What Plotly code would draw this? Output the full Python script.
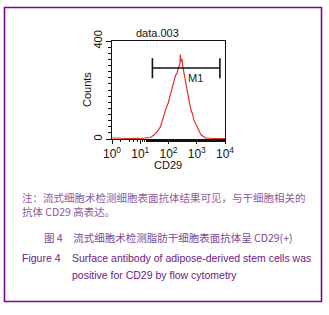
import numpy as np
import plotly.graph_objects as go

W, H = 329, 315

# histogram data: log10(CD29 intensity) bins and counts
log_bins = [0.0, 0.1, 0.2, 0.3, 0.4, 0.5, 0.6, 0.7, 0.8, 0.9, 1.0, 1.1, 1.2, 1.25,
            1.30, 1.35, 1.40, 1.45, 1.50, 1.55, 1.60, 1.65, 1.70, 1.75, 1.80, 1.85,
            1.90, 1.95, 2.00, 2.05, 2.10, 2.15, 2.20, 2.25, 2.30, 2.35, 2.40, 2.42,
            2.45, 2.48, 2.50, 2.55, 2.60, 2.65, 2.70, 2.75, 2.80, 2.85, 2.90, 2.95,
            3.00, 3.05, 3.10, 3.15, 3.20, 3.25, 3.30, 3.35, 3.40, 3.5, 3.6, 3.7,
            3.8, 3.9, 4.0]
counts = [4, 3, 2, 3, 3, 2, 3, 2, 3, 3, 2, 3, 3, 3,
          4, 6, 9, 12, 18, 23, 30, 35, 46, 63, 86, 100,
          121, 136, 150, 174, 196, 224, 238, 260, 268, 292, 302, 345,
          316, 325, 300, 268, 226, 197, 166, 142, 116, 102, 78, 64,
          50, 36, 29, 17, 12, 7, 5, 3, 2, 3, 2, 2,
          3, 2, 2]

marker_name = "M1"
marker_range = [1.43, 3.82]   # log10 bounds
marker_level = 290
marker_tick = [248, 330]

x_tickvals = [1, 10, 100, 1000, 10000]
x_ticktext = ["10<sup>0</sup>", "10<sup>1</sup>", "10<sup>2</sup>", "10<sup>3</sup>", "10<sup>4</sup>"]
y_tickvals = [0, 400]
y_ticktext = ["0", "400"]

title = "data.003"
x_title = "CD29"
y_title = "Counts"

note1 = "注：流式细胞术检测细胞表面抗体结果可见，与干细胞相关的"
note2 = "抗体 CD29 高表达。"
cap_cn = "图 4　流式细胞术检测脂肪干细胞表面抗体呈 CD29(+)"
cap_en1 = "Figure 4"
cap_en2 = "Surface antibody of adipose-derived stem cells was"
cap_en3 = "positive for CD29 by flow cytometry"


def px(x):
    return x / W


def py(y):
    return 1 - y / H


x_vals = [10 ** v for v in log_bins]
lo, hi = 10 ** marker_range[0], 10 ** marker_range[1]

fig = go.Figure()
fig.add_trace(go.Scatter(x=x_vals, y=counts, mode="lines",
                         line=dict(color="#e3302c", width=1.2), hoverinfo="skip"))
fig.add_trace(go.Scatter(x=[lo, lo, None, lo, hi, None, hi, hi],
                         y=[marker_tick[0], marker_tick[1], None, marker_level, marker_level, None,
                            marker_tick[0], marker_tick[1]],
                         mode="lines", line=dict(color="#111111", width=1.6), hoverinfo="skip"))

fig.update_layout(
    width=W, height=H, margin=dict(l=0, r=0, t=0, b=0),
    paper_bgcolor="white", plot_bgcolor="white", showlegend=False,
    font=dict(family="Liberation Sans, Arial, sans-serif", color="#111111"),
    xaxis=dict(type="log", range=[0, 4], domain=[px(112), px(225)], automargin=False,
               tickvals=x_tickvals, ticktext=x_ticktext, tickfont=dict(size=12),
               ticks="outside", ticklen=4, tickcolor="#111", showgrid=False, zeroline=False,
               showline=True, linecolor="#111", linewidth=1, mirror=True,
               minor=dict(ticks="outside", ticklen=2, tickcolor="#111", showgrid=False)),
    yaxis=dict(range=[0, 400], domain=[py(139), py(41)], automargin=False,
               tickvals=y_tickvals, ticktext=y_ticktext, tickangle=-90, tickfont=dict(size=11),
               ticks="outside", ticklen=5, tickcolor="#111", showgrid=False, zeroline=False,
               showline=True, linecolor="#111", linewidth=1, mirror=True,
               minor=dict(ticks="outside", ticklen=3, dtick=25, tickcolor="#111", showgrid=False)),
)

ann = []
ann.append(dict(x=px(157), y=py(33), text=title, font=dict(size=11)))
ann.append(dict(x=px(195), y=py(78), text=marker_name, font=dict(size=11, color="#222")))
ann.append(dict(x=px(168), y=py(165), text=x_title, font=dict(size=11)))
ann.append(dict(x=px(87), y=py(90), text=y_title, textangle=-90, font=dict(size=11)))

cn_font = "Noto Sans CJK SC, sans-serif"
ann.append(dict(x=px(20), y=py(197), text=note1, xanchor="left",
                font=dict(size=10.5, family=cn_font, color="#8b5a9b")))
ann.append(dict(x=px(20), y=py(211.5), text=note2, xanchor="left",
                font=dict(size=10.5, family=cn_font, color="#8b5a9b")))
ann.append(dict(x=px(42), y=py(237), text=cap_cn, xanchor="left",
                font=dict(size=10.5, family=cn_font, color="#7b4a92")))
ann.append(dict(x=px(20), y=py(258), text=cap_en1, xanchor="left",
                font=dict(size=10.5, color="#6a1a80")))
ann.append(dict(x=px(70), y=py(258), text=cap_en2, xanchor="left",
                font=dict(size=10.5, color="#6a1a80")))
ann.append(dict(x=px(70), y=py(275), text=cap_en3, xanchor="left",
                font=dict(size=10.5, color="#6a1a80")))
for a in ann:
    a.setdefault("xanchor", "center")
    a.update(xref="paper", yref="paper", yanchor="middle", showarrow=False)
fig.update_layout(annotations=ann)

fig.add_shape(type="rect", xref="paper", yref="paper",
              x0=px(4.5), x1=px(321.5), y0=py(301.5), y1=py(7.5),
              line=dict(color="#7a0a8a", width=1.6))

fig.write_html("out.html", config={"displayModeBar": False},
               post_script="document.body.style.margin='0';document.body.style.overflow='hidden';")
